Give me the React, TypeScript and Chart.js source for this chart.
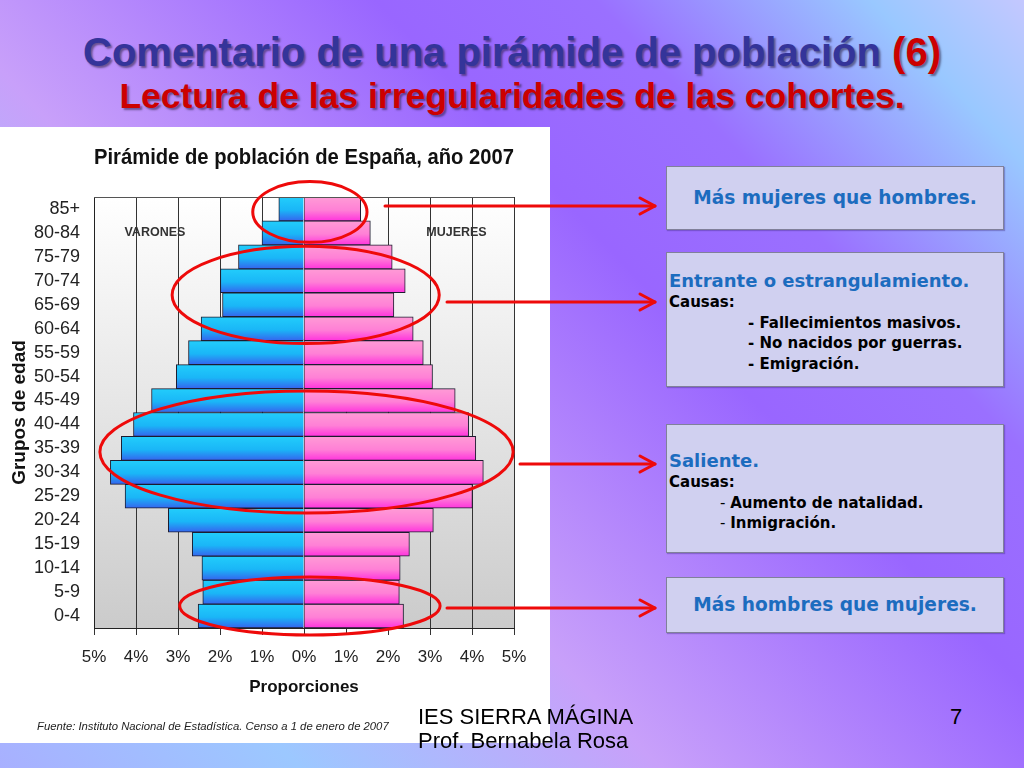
import React, { useEffect, useRef } from 'react';
import { Chart, registerables } from 'chart.js';

Chart.register(...registerables);

// ---- data ----
const ageGroups = ['0-4', '5-9', '10-14', '15-19', '20-24', '25-29', '30-34', '35-39', '40-44', '45-49', '50-54', '55-59', '60-64', '65-69', '70-74', '75-79', '80-84', '85+'];
const varones = [2.52, 2.41, 2.43, 2.66, 3.23, 4.26, 4.61, 4.35, 4.06, 3.63, 3.04, 2.75, 2.45, 1.94, 1.99, 1.56, 1.0, 0.6];
const mujeres = [2.37, 2.27, 2.29, 2.51, 3.08, 4.01, 4.27, 4.09, 3.92, 3.6, 3.06, 2.84, 2.6, 2.14, 2.41, 2.1, 1.58, 1.35];
const xRange = [-5, 5];
const chartTitle = 'Pirámide de población de España, año 2007';
const xTitle = 'Proporciones';
const yTitle = 'Grupos de edad';
const sexLabels = ['VARONES', 'MUJERES'];
const sourceText = 'Fuente: Instituto Nacional de Estadística. Censo a 1 de enero de 2007';

const SANS = "'Liberation Sans', Arial, Helvetica, sans-serif";

function barGradient(c: any, stops: string[]) {
  const chart = c.chart;
  const ys = chart.scales && chart.scales.y;
  if (c.type !== 'data' || !ys || !chart.chartArea) return stops[1];
  const center = ys.getPixelForValue(c.dataIndex);
  const h = (ys.bottom - ys.top) / ageGroups.length;
  const g = chart.ctx.createLinearGradient(0, center - h / 2, 0, center + h / 2);
  g.addColorStop(0, stops[0]);
  g.addColorStop(0.55, stops[1]);
  g.addColorStop(1, stops[2]);
  return g;
}

// highlight ellipses in data units: cx,rx in %, cy,ry in category index units
const highlights = [
  { cx: 0.14, rx: 1.36, cy: 16.875, ry: 1.27 },
  { cx: 0.04, rx: 3.18, cy: 13.41, ry: 2.03 },
  { cx: 0.06, rx: 4.92, cy: 6.85, ry: 2.55 },
  { cx: 0.14, rx: 3.1, cy: 0.42, ry: 1.21 },
];

const pyramidPlugin = {
  id: 'pyramidDecor',
  beforeDraw(chart: any) {
    const { ctx, chartArea } = chart;
    if (!chartArea) return;
    const { left, top, right, bottom } = chartArea;
    const g = ctx.createLinearGradient(0, top, 0, bottom);
    g.addColorStop(0, '#ffffff');
    g.addColorStop(1, '#cbcbcb');
    ctx.save();
    ctx.fillStyle = g;
    ctx.fillRect(left, top, right - left, bottom - top);
    ctx.restore();
  },
  afterDatasetsDraw(chart: any) {
    const { ctx, chartArea, scales } = chart;
    const { left, top, right } = chartArea;
    ctx.save();
    ctx.strokeStyle = '#555';
    ctx.lineWidth = 1;
    ctx.beginPath();
    ctx.moveTo(left, top + 0.5);
    ctx.lineTo(right, top + 0.5);
    ctx.stroke();
    ctx.fillStyle = '#333';
    ctx.font = `bold 12.5px ${SANS}`;
    ctx.textAlign = 'center';
    ctx.textBaseline = 'middle';
    const yRow = scales.y.getPixelForValue(16);
    ctx.fillText(sexLabels[0], scales.x.getPixelForValue(-3.55), yRow);
    ctx.fillText(sexLabels[1], scales.x.getPixelForValue(3.63), yRow);
    ctx.restore();
  },
  afterDraw(chart: any) {
    const { ctx, scales } = chart;
    ctx.save();
    ctx.strokeStyle = '#ee0a0a';
    ctx.lineWidth = 3;
    highlights.forEach((h) => {
      const cx = scales.x.getPixelForValue(h.cx);
      const rx = Math.abs(scales.x.getPixelForValue(h.cx + h.rx) - cx);
      const cy = scales.y.getPixelForValue(h.cy);
      const ry = Math.abs(scales.y.getPixelForValue(h.cy + h.ry) - cy);
      ctx.beginPath();
      ctx.ellipse(cx, cy, rx, ry, 0, 0, Math.PI * 2);
      ctx.stroke();
    });
    ctx.restore();
  },
};

function Pyramid() {
  const ref = useRef<HTMLCanvasElement | null>(null);
  useEffect(() => {
    if (!ref.current) return;
    const chart = new Chart(ref.current, {
      type: 'bar',
      data: {
        labels: ageGroups,
        datasets: [
          {
            label: sexLabels[0],
            data: varones.map((v) => -v),
            backgroundColor: (c: any) => barGradient(c, ['#22cdfb', '#1ab6f7', '#3564ee']),
            borderColor: '#1c1c30',
            borderWidth: 1,
            barPercentage: 1,
            categoryPercentage: 1,
          },
          {
            label: sexLabels[1],
            data: mujeres,
            backgroundColor: (c: any) => barGradient(c, ['#ff9bd6', '#ff80d6', '#ff33dd']),
            borderColor: '#1c1c30',
            borderWidth: 1,
            barPercentage: 1,
            categoryPercentage: 1,
          },
        ],
      },
      options: {
        indexAxis: 'y',
        animation: false,
        responsive: true,
        maintainAspectRatio: false,
        layout: { padding: { left: 0, right: 36, top: 0, bottom: 38 } },
        plugins: {
          legend: { display: false },
          tooltip: { enabled: false },
          title: {
            display: true,
            text: chartTitle,
            fullSize: false,
            color: '#111',
            font: { family: SANS, size: 22, weight: 'bold' },
            padding: { top: 18, bottom: 25.6 },
          },
        },
        scales: {
          x: {
            stacked: true,
            min: xRange[0],
            max: xRange[1],
            ticks: {
              stepSize: 1,
              callback: (v: any) => Math.abs(Number(v)) + '%',
              color: '#222',
              font: { family: SANS, size: 17 },
              padding: 12,
              maxRotation: 0,
            },
            grid: { color: '#333', lineWidth: 1, drawTicks: true, tickLength: 7, tickColor: '#333' },
            border: { color: '#222' },
            title: {
              display: true,
              text: xTitle,
              color: '#111',
              font: { family: SANS, size: 17, weight: 'bold' },
              padding: { top: 4, bottom: 4 },
            },
            afterFit: (s: any) => {
              s.height = 74;
            },
          },
          y: {
            stacked: true,
            reverse: true,
            ticks: { color: '#222', font: { family: SANS, size: 18 }, padding: 14, autoSkip: false },
            grid: { display: false, drawTicks: false },
            border: { display: true, color: '#222' },
            title: {
              display: true,
              text: yTitle,
              color: '#111',
              font: { family: SANS, size: 19, weight: 'bold' },
              padding: { top: 8, bottom: 0 },
            },
            afterFit: (s: any) => {
              s.width = 94;
            },
          },
        },
      },
      plugins: [pyramidPlugin],
    } as any);
    return () => chart.destroy();
  }, []);
  return <canvas ref={ref} />;
}

const arrows = [
  { x1: 385, x2: 655, y: 206 },
  { x1: 447, x2: 655, y: 302 },
  { x1: 520, x2: 655, y: 464 },
  { x1: 447, x2: 655, y: 608 },
];

const boxBase: React.CSSProperties = {
  position: 'absolute',
  left: 666,
  width: 338,
  background: '#d0d0f0',
  border: '1px solid #80809a',
  boxSizing: 'border-box',
  boxShadow: '1px 1px 1px rgba(60,40,120,0.35)',
};
const BOX_FONT = "'DejaVu Sans', Verdana, sans-serif";
const blue: React.CSSProperties = { color: '#1c6cbf', fontFamily: BOX_FONT, fontWeight: 'bold', fontSize: 18 };
const blueC: React.CSSProperties = { ...blue, fontSize: 18.6 };
const black: React.CSSProperties = { color: '#000', fontFamily: BOX_FONT, fontWeight: 'bold', fontSize: 15 };

function Line({ top, left, style, children, center }: any) {
  return (
    <div
      style={{
        position: 'absolute',
        top: top - 12,
        left: center ? 0 : left,
        width: center ? '100%' : undefined,
        textAlign: center ? 'center' : 'left',
        lineHeight: '24px',
        whiteSpace: 'nowrap',
        ...style,
      }}
    >
      {children}
    </div>
  );
}

export default function App() {
  return (
    <div
      style={{
        position: 'fixed',
        left: 0,
        top: 0,
        width: 1024,
        height: 768,
        overflow: 'hidden',
        background:
          'linear-gradient(46.6deg, #a8b0ff 0px, #9cc8ff 218px, #c8a0fa 480px, #9966ff 800px, #9a70ff 960px, #99c8ff 1160px, #c4c8ff 1272px)',
        fontFamily: SANS,
      }}
    >
      {/* slide titles */}
      <div
        style={{
          position: 'absolute',
          top: 32,
          left: 0,
          width: 1024,
          textAlign: 'center',
          fontFamily: SANS,
          fontWeight: 'bold',
          fontSize: 40,
          lineHeight: '40px',
          color: '#34349a',
          textShadow: '2px 2px 2px rgba(40,30,60,0.55)',
          whiteSpace: 'nowrap',
        }}
      >
        Comentario de una pirámide de población <span style={{ color: '#cc0000' }}>(6)</span>
      </div>
      <div
        style={{
          position: 'absolute',
          top: 78,
          left: 0,
          width: 1024,
          textAlign: 'center',
          fontFamily: SANS,
          fontWeight: 'bold',
          fontSize: 35.5,
          lineHeight: '36px',
          color: '#cc0000',
          textShadow: '2px 2px 2px rgba(40,30,60,0.55)',
          whiteSpace: 'nowrap',
        }}
      >
        Lectura de las irregularidades de las cohortes.
      </div>

      {/* white chart panel */}
      <div style={{ position: 'absolute', left: 0, top: 127, width: 550, height: 616, background: '#fff' }}>
        <div style={{ position: 'absolute', left: 0, top: 0, width: 550, height: 613 }}>
          <Pyramid />
        </div>
        <div
          style={{
            position: 'absolute',
            left: 37,
            top: 592,
            fontFamily: SANS,
            fontStyle: 'italic',
            fontSize: 11.3,
            lineHeight: '14px',
            color: '#222',
            whiteSpace: 'nowrap',
          }}
        >
          {sourceText}
        </div>
      </div>

      {/* text boxes */}
      <div style={{ ...boxBase, top: 166, height: 64 }}>
        <Line top={31} center style={blueC}>Más mujeres que hombres.</Line>
      </div>
      <div style={{ ...boxBase, top: 252, height: 135 }}>
        <Line top={28} left={2} style={blue}>Entrante o estrangulamiento.</Line>
        <Line top={49} left={2} style={black}>Causas:</Line>
        <Line top={70} left={81} style={black}>- Fallecimientos masivos.</Line>
        <Line top={90} left={81} style={black}>- No nacidos por guerras.</Line>
        <Line top={111} left={81} style={black}>- Emigración.</Line>
      </div>
      <div style={{ ...boxBase, top: 424, height: 129 }}>
        <Line top={36} left={2} style={blue}>Saliente.</Line>
        <Line top={57} left={2} style={black}>Causas:</Line>
        <Line top={78} left={53} style={black}><span style={{ fontWeight: 'normal' }}>- </span>Aumento de natalidad.</Line>
        <Line top={98} left={53} style={black}><span style={{ fontWeight: 'normal' }}>- </span>Inmigración.</Line>
      </div>
      <div style={{ ...boxBase, top: 577, height: 56 }}>
        <Line top={27} center style={blueC}>Más hombres que mujeres.</Line>
      </div>

      {/* footer */}
      <div style={{ position: 'absolute', left: 418, top: 705, fontSize: 22, lineHeight: '24px', color: '#000', whiteSpace: 'nowrap' }}>
        IES SIERRA MÁGINA
        <br />
        Prof. Bernabela Rosa
      </div>
      <div style={{ position: 'absolute', left: 950, top: 705, fontSize: 22, lineHeight: '24px', color: '#000' }}>7</div>

      {/* arrows */}
      <svg width={1024} height={768} style={{ position: 'absolute', left: 0, top: 0, pointerEvents: 'none' }}>
        {arrows.map((a, i) => (
          <g key={i} stroke="#ee0a0a" strokeWidth={3} fill="none" strokeLinecap="round" strokeLinejoin="round">
            <line x1={a.x1} y1={a.y} x2={a.x2} y2={a.y} />
            <polyline points={`${a.x2 - 15},${a.y - 8} ${a.x2},${a.y} ${a.x2 - 15},${a.y + 8}`} />
          </g>
        ))}
      </svg>
    </div>
  );
}
